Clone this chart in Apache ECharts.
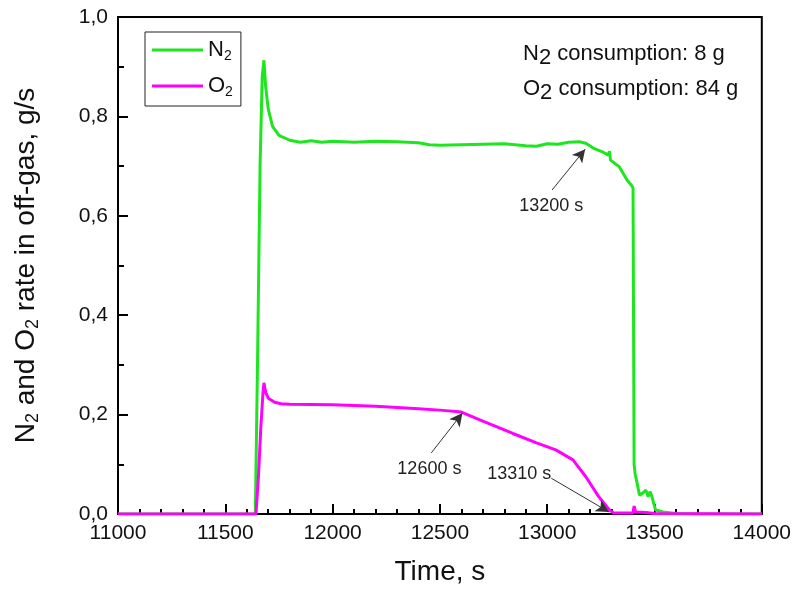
<!DOCTYPE html>
<html>
<head>
<meta charset="utf-8">
<script src="https://cdn.jsdelivr.net/npm/echarts@6/dist/echarts.min.js"></script>
<style>
  html, body { margin: 0; padding: 0; background: #fff; }
  #chart { width: 794px; height: 595px; }
</style>
</head>
<body>
<div id="chart"></div>
<script>
// N2 in off-gas, g/s
const n2Time = [11000, 11640, 11650, 11662, 11672, 11680, 11688, 11700, 11720, 11750, 11800, 11850, 11900, 11950, 12000,
  12100, 12200, 12300, 12400, 12450, 12500, 12600, 12700, 12800, 12900, 12950, 13000, 13050, 13100, 13150, 13180,
  13220, 13260, 13285, 13290, 13295, 13335, 13372, 13395, 13400, 13405, 13410, 13420, 13430, 13445, 13460, 13470,
  13480, 13490, 13505, 13540, 13600, 13700, 14000];
const n2Rate = [0, 0, 0.30, 0.70, 0.88, 0.913, 0.86, 0.815, 0.78, 0.762, 0.752, 0.748, 0.751, 0.748, 0.750,
  0.748, 0.750, 0.749, 0.747, 0.743, 0.742, 0.743, 0.744, 0.745, 0.741, 0.740, 0.745, 0.744, 0.748, 0.749, 0.746,
  0.735, 0.728, 0.722, 0.730, 0.712, 0.699, 0.672, 0.660, 0.655, 0.10, 0.08, 0.06, 0.038, 0.042, 0.048, 0.035,
  0.045, 0.032, 0.008, 0.004, 0.001, 0, 0];

// O2 in off-gas, g/s
const o2Time = [11000, 11643, 11655, 11665, 11675, 11680, 11688, 11700, 11730, 11760, 11800, 12000, 12200, 12400,
  12500, 12600, 12700, 12840, 12950, 13040, 13120, 13180, 13240, 13290, 13310, 13400, 13405, 13412, 13460, 13500, 14000];
const o2Rate = [0, 0, 0.08, 0.17, 0.24, 0.264, 0.245, 0.233, 0.225, 0.222, 0.221, 0.220, 0.217, 0.212,
  0.209, 0.205, 0.187, 0.162, 0.143, 0.129, 0.109, 0.075, 0.035, 0.008, 0.002, 0.002, 0.016, 0.004, 0.003, 0.001, 0];

// annotation arrows: [tailTime, tailRate, tipTime, tipRate], label, label position
const arrow13200 = [13023, 0.652, 13177, 0.734];
const arrow12600 = [12460, 0.123, 12605, 0.203];
const arrow13310 = [13019, 0.072, 13288, 0.004];
const label13200 = ['13200 s', 13019, 0.620];
const label12600 = ['12600 s', 12451, 0.091];
const label13310 = ['13310 s', 12870, 0.080];

const zip = (a, b) => a.map((t, i) => [t, b[i]]);

function arrowLine(a) {
  return [{ coord: [a[0], a[1]] }, { coord: [a[2], a[3]] }];
}
function textPoint(l) {
  return { coord: [l[1], l[2]], value: l[0] };
}

const chart = echarts.init(document.getElementById('chart'));

const font = 'Liberation Sans, Arial, sans-serif';

const markLineBase = {
  silent: true,
  animation: false,
  symbol: ['none', 'arrow'],
  symbolSize: [10, 13],
  label: { show: false },
  lineStyle: { color: '#333', width: 1, type: 'solid' },
  itemStyle: { color: '#111' },
  emphasis: { disabled: true },
};
const markPointBase = {
  silent: true,
  animation: false,
  symbol: 'circle',
  symbolSize: 0,
  label: {
    show: true, position: 'inside', formatter: p => p.value,
    color: '#222', fontSize: 18, fontFamily: font,
  },
};

const tickStyle = { color: '#000', width: 2 };

const option = {
  animation: false,
  backgroundColor: '#fff',
  grid: {
    left: 118, right: 31, top: 17, bottom: 81,
    show: true, borderColor: '#000', borderWidth: 2,
  },
  legend: {
    left: 145, top: 32,
    orient: 'vertical',
    itemWidth: 51, itemHeight: 14, itemGap: 12,
    padding: [7, 8, 7, 7],
    borderColor: '#222', borderWidth: 1,
    selectedMode: false,
    icon: 'path://M0,5.5 L51,5.5 L51,8.5 L0,8.5 Z',
    formatter: name => name === 'N2' ? '{m|N}{s|2}' : '{m|O}{s|2}',
    textStyle: {
      color: '#111',
      rich: {
        m: { fontSize: 22, fontFamily: font },
        s: { fontSize: 14, fontFamily: font, padding: [12, 0, 0, 0] },
      },
    },
  },
  graphic: [
    {
      type: 'text', left: 523, top: 43,
      style: {
        text: '{m|N}{s|2}{m| consumption: 8 g}',
        rich: {
          m: { fontSize: 22, fontFamily: font, fill: '#111' },
          s: { fontSize: 22, fontFamily: font, fill: '#111', padding: [8, 0, 0, 0] },
        },
      },
    },
    {
      type: 'text', left: 523, top: 78,
      style: {
        text: '{m|O}{s|2}{m| consumption: 84 g}',
        rich: {
          m: { fontSize: 22, fontFamily: font, fill: '#111' },
          s: { fontSize: 22, fontFamily: font, fill: '#111', padding: [8, 0, 0, 0] },
        },
      },
    },
  ],
  xAxis: {
    type: 'value',
    min: 11000, max: 14000, interval: 500,
    name: 'Time, s',
    nameLocation: 'middle',
    nameGap: 44,
    nameTextStyle: { fontSize: 28, fontFamily: font, color: '#111' },
    axisLine: { show: true, onZero: false, lineStyle: { color: '#000', width: 2 } },
    axisTick: { show: true, inside: true, length: 10, lineStyle: tickStyle },
    minorTick: { show: true, splitNumber: 5, length: 5, lineStyle: tickStyle },
    axisLabel: {
      fontSize: 21, fontFamily: font, color: '#111', margin: 9,
      formatter: v => String(v),
    },
    splitLine: { show: false },
  },
  yAxis: {
    type: 'value',
    min: 0, max: 1, interval: 0.2,
    name: '{m|N}{s|2}{m| and O}{s|2}{m| rate in off-gas, g/s}',
    nameLocation: 'middle',
    nameGap: 76,
    nameTextStyle: {
      color: '#111',
      rich: {
        m: { fontSize: 28, fontFamily: font },
        s: { fontSize: 18, fontFamily: font, padding: [14, 0, 0, 0] },
      },
    },
    axisLine: { show: true, lineStyle: { color: '#000', width: 2 } },
    axisTick: { show: true, inside: true, length: 10, lineStyle: tickStyle },
    minorTick: { show: true, splitNumber: 2, length: 6, lineStyle: tickStyle },
    axisLabel: {
      fontSize: 21, fontFamily: font, color: '#111', margin: 10,
      formatter: v => v.toFixed(1).replace('.', ','),
    },
    splitLine: { show: false },
  },
  series: [
    {
      name: 'N2', type: 'line', symbol: 'none',
      data: zip(n2Time, n2Rate),
      lineStyle: { color: '#1ee61e', width: 3 },
      itemStyle: { color: '#1ee61e' },
      z: 3,
      markLine: Object.assign({}, markLineBase, { data: [arrowLine(arrow13200)] }),
      markPoint: Object.assign({}, markPointBase, { data: [textPoint(label13200)] }),
    },
    {
      name: 'O2', type: 'line', symbol: 'none',
      data: zip(o2Time, o2Rate),
      lineStyle: { color: '#ff00ff', width: 3 },
      itemStyle: { color: '#ff00ff' },
      z: 4,
      markLine: Object.assign({}, markLineBase, { data: [arrowLine(arrow12600), arrowLine(arrow13310)] }),
      markPoint: Object.assign({}, markPointBase, { data: [textPoint(label12600), textPoint(label13310)] }),
    },
  ],
};

chart.setOption(option);
</script>
</body>
</html>
